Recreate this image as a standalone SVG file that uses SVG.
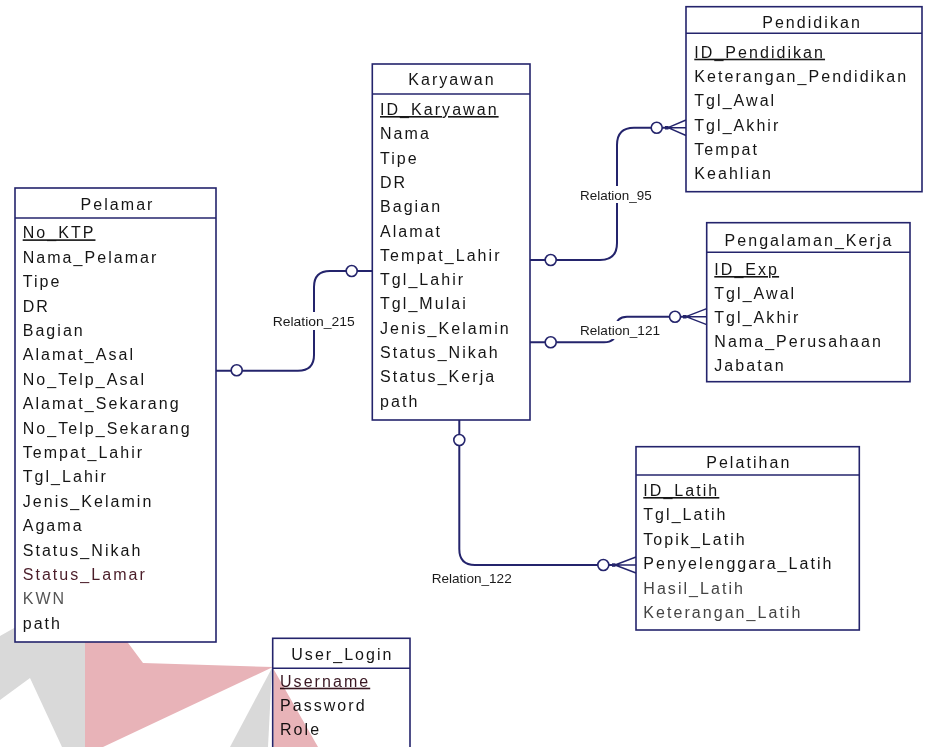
<svg xmlns="http://www.w3.org/2000/svg" width="928" height="747" viewBox="0 0 928 747">
<style>
.box{fill:#fff;stroke:#24246c;stroke-width:1.6}
.sep{stroke:#24246c;stroke-width:1.6}
.t{font-family:"Liberation Sans",Arial,sans-serif;font-size:16px;letter-spacing:2.05px;fill:#151515}
.ti{text-anchor:middle}
.pk{text-decoration:underline}
.conn{fill:none;stroke:#24246c;stroke-width:2}
.card{fill:#fff;stroke:#24246c;stroke-width:1.6}
.crow{fill:none;stroke:#24246c;stroke-width:1.4}
.lblbg{fill:#fff}
.lbl{font-family:"Liberation Sans",Arial,sans-serif;font-size:13px;fill:#1a1a1a}
.wmr{fill:#e8b3b8}
.wmg{fill:#d9d9d9}
</style>
<rect x="0" y="0" width="928" height="747" fill="#fff"/>

<!-- watermark -->
<g id="watermark">
  <polygon class="wmg" points="0,636 85,588 85,747 62,747 30,678 0,700"/>
  <polygon class="wmr" points="85,585 143,663 273,667 103,747 85,747"/>
  <polygon class="wmg" points="272,668 230,747 268,747"/>
</g>

<!-- connectors -->
<g id="connectors">
  <!-- Relation_215 -->
  <path class="conn" d="M216,370.7 H298 Q314,370.7 314,355 V287 Q314,271 330,271 H372.3"/>
  <circle class="card" cx="236.7" cy="370.2" r="5.5"/>
  <circle class="card" cx="351.7" cy="271" r="5.5"/>
  <rect class="lblbg" x="270" y="312" width="88" height="18"/>
  <text class="lbl" x="272.7" y="326" textLength="82" lengthAdjust="spacingAndGlyphs">Relation_215</text>

  <!-- Relation_95 -->
  <path class="conn" d="M530,260 H600 Q617,260 617,243 V145 Q617,127.7 634,127.7 H670"/>
  <path class="crow" d="M668,127.7 L686,120 M668,127.7 H686 M668,127.7 L686,135.5"/>
  <rect x="665" y="126" width="3.5" height="3.5" fill="#24246c"/>
  <circle class="card" cx="550.7" cy="260" r="5.5"/>
  <circle class="card" cx="656.7" cy="127.7" r="5.5"/>
  <rect class="lblbg" x="577" y="186" width="78" height="17"/>
  <text class="lbl" x="580" y="199.7" textLength="71.7" lengthAdjust="spacingAndGlyphs">Relation_95</text>

  <!-- Relation_121 -->
  <path class="conn" d="M530,342.3 H604 Q616,342.3 616,331 V328 Q616,316.7 627,316.7 H688"/>
  <path class="crow" d="M686,316.7 L706.7,308.7 M686,316.7 H706.7 M686,316.7 L706.7,324.7"/>
  <rect x="683" y="315" width="3.5" height="3.5" fill="#24246c"/>
  <circle class="card" cx="550.7" cy="342.3" r="5.5"/>
  <circle class="card" cx="675" cy="316.7" r="5.5"/>
  <rect class="lblbg" x="578" y="321" width="84" height="18"/>
  <text class="lbl" x="580" y="334.7" textLength="80" lengthAdjust="spacingAndGlyphs">Relation_121</text>

  <!-- Relation_122 -->
  <path class="conn" d="M459.3,420 V549 Q459.3,565 475,565 H617"/>
  <path class="crow" d="M615,565 L636,557 M615,565 H636 M615,565 L636,573"/>
  <rect x="612" y="563.3" width="3.5" height="3.5" fill="#24246c"/>
  <circle class="card" cx="459.3" cy="440" r="5.5"/>
  <circle class="card" cx="603.3" cy="565" r="5.5"/>
  <rect class="lblbg" x="429" y="569" width="86" height="17"/>
  <text class="lbl" x="431.7" y="582.5" textLength="80" lengthAdjust="spacingAndGlyphs">Relation_122</text>
</g>

<!-- Pelamar -->
<g id="Pelamar">
  <rect class="box" x="15" y="188" width="201" height="454"/>
  <line class="sep" x1="15" y1="218" x2="216" y2="218"/>
  <text class="t ti" x="117.5" y="209.5">Pelamar</text>
  <text class="t pk" x="22.7" y="238.3">No_KTP</text>
  <text class="t" x="22.7" y="262.7">Nama_Pelamar</text>
  <text class="t" x="22.7" y="287.1">Tipe</text>
  <text class="t" x="22.7" y="311.5">DR</text>
  <text class="t" x="22.7" y="335.9">Bagian</text>
  <text class="t" x="22.7" y="360.3">Alamat_Asal</text>
  <text class="t" x="22.7" y="384.7">No_Telp_Asal</text>
  <text class="t" x="22.7" y="409.1">Alamat_Sekarang</text>
  <text class="t" x="22.7" y="433.5">No_Telp_Sekarang</text>
  <text class="t" x="22.7" y="457.9">Tempat_Lahir</text>
  <text class="t" x="22.7" y="482.3">Tgl_Lahir</text>
  <text class="t" x="22.7" y="506.7">Jenis_Kelamin</text>
  <text class="t" x="22.7" y="531.1">Agama</text>
  <text class="t" x="22.7" y="555.5">Status_Nikah</text>
  <text class="t" x="22.7" y="579.9" style="fill:#4a1c28">Status_Lamar</text>
  <text class="t" x="22.7" y="604.3" style="fill:#555">KWN</text>
  <text class="t" x="22.7" y="628.7">path</text>
</g>

<!-- Karyawan -->
<g id="Karyawan">
  <rect class="box" x="372.3" y="64" width="157.7" height="356"/>
  <line class="sep" x1="372.3" y1="94" x2="530" y2="94"/>
  <text class="t ti" x="452" y="85">Karyawan</text>
  <text class="t pk" x="380" y="115">ID_Karyawan</text>
  <text class="t" x="380" y="139.3">Nama</text>
  <text class="t" x="380" y="163.6">Tipe</text>
  <text class="t" x="380" y="187.9">DR</text>
  <text class="t" x="380" y="212.2">Bagian</text>
  <text class="t" x="380" y="236.5">Alamat</text>
  <text class="t" x="380" y="260.8">Tempat_Lahir</text>
  <text class="t" x="380" y="285.1">Tgl_Lahir</text>
  <text class="t" x="380" y="309.4">Tgl_Mulai</text>
  <text class="t" x="380" y="333.7">Jenis_Kelamin</text>
  <text class="t" x="380" y="358">Status_Nikah</text>
  <text class="t" x="380" y="382.3">Status_Kerja</text>
  <text class="t" x="380" y="406.6">path</text>
</g>

<!-- Pendidikan -->
<g id="Pendidikan">
  <rect class="box" x="686" y="6.7" width="236" height="185"/>
  <line class="sep" x1="686" y1="33.3" x2="922" y2="33.3"/>
  <text class="t ti" x="812" y="28.3">Pendidikan</text>
  <text class="t pk" x="694.3" y="57.7">ID_Pendidikan</text>
  <text class="t" x="694.3" y="82">Keterangan_Pendidikan</text>
  <text class="t" x="694.3" y="106.3">Tgl_Awal</text>
  <text class="t" x="694.3" y="130.6">Tgl_Akhir</text>
  <text class="t" x="694.3" y="154.9">Tempat</text>
  <text class="t" x="694.3" y="179.2">Keahlian</text>
</g>

<!-- Pengalaman_Kerja -->
<g id="Pengalaman_Kerja">
  <rect class="box" x="706.7" y="222.7" width="203.3" height="159"/>
  <line class="sep" x1="706.7" y1="252.3" x2="910" y2="252.3"/>
  <text class="t ti" x="809" y="245.7">Pengalaman_Kerja</text>
  <text class="t pk" x="714.3" y="275">ID_Exp</text>
  <text class="t" x="714.3" y="299">Tgl_Awal</text>
  <text class="t" x="714.3" y="323">Tgl_Akhir</text>
  <text class="t" x="714.3" y="347">Nama_Perusahaan</text>
  <text class="t" x="714.3" y="371">Jabatan</text>
</g>

<!-- Pelatihan -->
<g id="Pelatihan">
  <rect class="box" x="636" y="446.7" width="223.3" height="183.3"/>
  <line class="sep" x1="636" y1="475" x2="859.3" y2="475"/>
  <text class="t ti" x="748.8" y="467.7">Pelatihan</text>
  <text class="t pk" x="643.3" y="496">ID_Latih</text>
  <text class="t" x="643.3" y="520.4">Tgl_Latih</text>
  <text class="t" x="643.3" y="544.8">Topik_Latih</text>
  <text class="t" x="643.3" y="569.2">Penyelenggara_Latih</text>
  <text class="t" x="643.3" y="593.6" style="fill:#444">Hasil_Latih</text>
  <text class="t" x="643.3" y="618" style="fill:#444">Keterangan_Latih</text>
</g>

<!-- User_Login -->
<g id="User_Login">
  <rect class="box" x="272.7" y="638.3" width="137.3" height="120"/>
  <line class="sep" x1="272.7" y1="668.3" x2="410" y2="668.3"/>
  <text class="t ti" x="342.4" y="660">User_Login</text>
  <text class="t pk" x="280" y="686.7" style="fill:#3a1822">Username</text>
  <text class="t" x="280" y="710.7">Password</text>
  <text class="t" x="280" y="734.7">Role</text>
</g>

<polygon points="273.5,669 318,747 273.5,747" fill="#e8b3b8" style="mix-blend-mode:multiply"/>
</svg>
